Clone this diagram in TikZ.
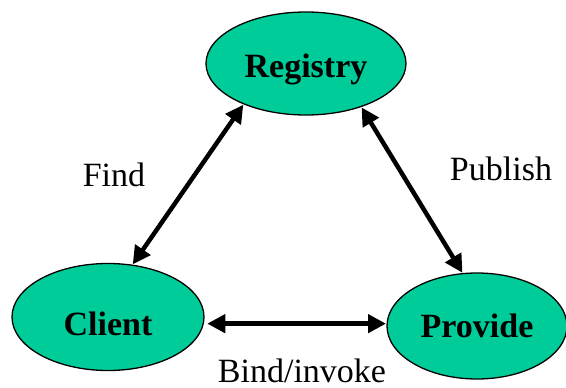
\documentclass[tikz,border=0pt]{standalone}
\usepackage{fontspec}
\setmainfont{Liberation Serif}
\usetikzlibrary{shapes.geometric,arrows.meta}
\definecolor{nodegreen}{RGB}{0,204,153}
\begin{document}
\begin{tikzpicture}[x=1pt,y=-1pt,
  role/.style={ellipse,draw=black,line width=1.3pt,fill=nodegreen,inner sep=0pt,outer sep=0pt,
    font=\fontsize{34}{36}\selectfont\bfseries,text depth=0pt},
  lbl/.style={font=\fontsize{34}{36}\selectfont,anchor=base,inner sep=0pt},
  link/.style={line width=4.5pt,{Triangle[length=18pt,width=18pt]}-{Triangle[length=18pt,width=18pt]},shorten <=1pt,shorten >=1pt}]
\useasboundingbox (0,0) rectangle (566,388);
\node[role,minimum width=200pt,minimum height=103pt,text height=27pt] (registry) at (306,63.5) {Registry};
\node[role,minimum width=192pt,minimum height=107pt,text height=36pt] (client) at (108,317) {Client};
\node[role,minimum width=180pt,minimum height=106pt,text height=22pt] (provide) at (477,326) {Provide};
\node[lbl] (find) at (114,186) {Find};
\node[lbl] (publish) at (501,180) {Publish};
\node[lbl] (bind) at (302,382) {Bind/invoke};
\draw[link] (client.65) -- (registry.213);
\draw[link] (registry.-38) -- (provide.105);
\draw[link,shorten <=4pt,shorten >=1pt] (client.-4) -- (provide.west |- client.-4);
\end{tikzpicture}
\end{document}
